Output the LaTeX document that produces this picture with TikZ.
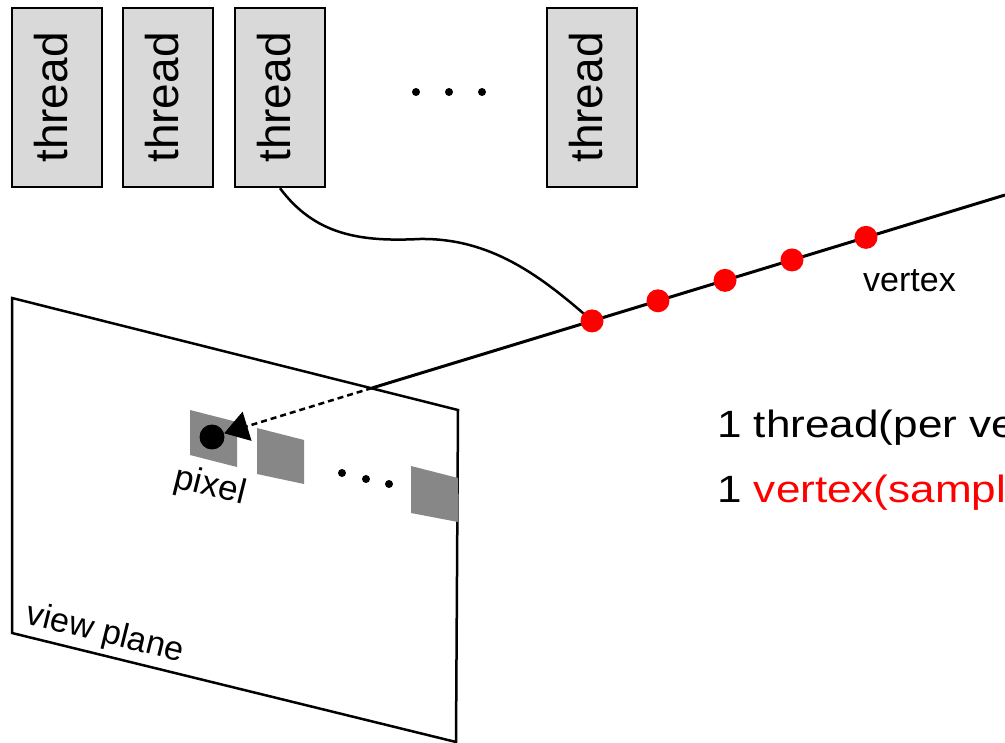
\documentclass[tikz,border=0pt]{standalone}
\usepackage{fontspec}
\setmainfont{Liberation Sans}
\usetikzlibrary{arrows.meta}
\definecolor{boxgray}{RGB}{217,217,217}
\definecolor{pixgray}{RGB}{135,135,135}
\tikzset{
  threadbox/.style={draw=black, fill=boxgray, line width=2.5pt, rectangle,
    minimum width=90pt, minimum height=179pt, inner sep=0pt},
  threadlbl/.style={rotate=90, anchor=base, inner sep=0pt,
    font=\fontsize{46}{50}\selectfont},
  vdot/.style={circle, fill=red, draw=none, minimum size=23pt, inner sep=0pt},
  smalldot/.style={circle, fill=black, draw=none, minimum size=8pt, inner sep=0pt},
  planeedge/.style={draw=black, line width=2.5pt, line join=miter},
  pixelsq/.style={fill=pixgray, draw=none},
  ray/.style={draw=black, line width=3pt},
  sightline/.style={draw=black, line width=2.5pt, dash pattern=on 6pt off 4pt,
    -{Triangle[length=24pt,width=30pt]}},
  link/.style={draw=black, line width=2.5pt},
  planelbl/.style={rotate=-14, inner sep=0pt, font=\fontsize{35}{40}\selectfont},
  sidetext/.style={anchor=base west, inner sep=0pt, font=\fontsize{38}{44}\selectfont}
}
\begin{document}
\begin{tikzpicture}[x=1pt,y=-1pt]
\useasboundingbox (0,0) rectangle (1005,743);
\clip (0,0) rectangle (1005,743);

% view plane
\draw[planeedge, fill=white] (12,298) -- (458,410) -- (456,742) -- (12,633) -- cycle;

% pixels on the plane
\fill[pixelsq] (190,410) -- (237,422) -- (237,467) -- (190,455) -- cycle;
\fill[pixelsq] (257,428) -- (304,440) -- (304,484) -- (257,474) -- cycle;
\fill[pixelsq] (411,466) -- (458,478) -- (458,522) -- (411,513) -- cycle;
\node[smalldot] (pd1) at (342,473) {};
\node[smalldot] (pd2) at (366,479) {};
\node[smalldot] (pd3) at (389,484) {};

\node[planelbl] (pixlbl) at (210,487) {pixel};
\node[planelbl, font=\fontsize{34}{40}\selectfont] (vplbl) at (105,634) {view plane};

% ray through the plane
\coordinate (hit) at (372,388);
\coordinate (rayend) at (1005,195);
\draw[ray] (hit) -- (rayend);
\path (hit) -- (rayend)
  coordinate[pos=0.3476] (v1)
  coordinate[pos=0.4518] (v2)
  coordinate[pos=0.5577] (v3)
  coordinate[pos=0.6635] (v4)
  coordinate[pos=0.7804] (v5);

% pixel sample point and line of sight
\node[circle, fill=black, minimum size=25pt, inner sep=0pt] (pxdot) at (212,437) {};
\draw[sightline] (hit) -- (pxdot);

% threads
\node[threadbox] (t1) at (57,97.5) {};
\node[threadbox] (t2) at (168,97.5) {};
\node[threadbox] (t3) at (280,97.5) {};
\node[threadbox] (t4) at (592,97.5) {};
\node[threadlbl] (l1) at ([xshift=10pt]t1.center) {thread};
\node[threadlbl] (l2) at ([xshift=10pt]t2.center) {thread};
\node[threadlbl] (l3) at ([xshift=10pt]t3.center) {thread};
\node[threadlbl] (l4) at ([xshift=10pt]t4.center) {thread};
\node[smalldot] (td1) at (416,92) {};
\node[smalldot] (td2) at (449,92) {};
\node[smalldot] (td3) at (482,92) {};

% thread assigned to a vertex
\draw[link] (t3.south) .. controls (315,235) and (360,242) .. (420,239)
  .. controls (490,238) and (540,275) .. (v1);

% vertices along the ray
\node[vdot] (d1) at (v1) {};
\node[vdot] (d2) at (v2) {};
\node[vdot] (d3) at (v3) {};
\node[vdot] (d4) at (v4) {};
\node[vdot] (d5) at (v5) {};
\node[anchor=base west, inner sep=0pt, font=\fontsize{34}{40}\selectfont] (vlbl) at (863,292) {vertex};

% notes
\node[sidetext] (n1) at (717,438) {\scalebox{1.16}[1]{1 thread(per ve}};
\node[sidetext] (n2) at (717,502) {\scalebox{1.16}[1]{1 \textcolor{red}{vertex(sampli}}};
\end{tikzpicture}
\end{document}
